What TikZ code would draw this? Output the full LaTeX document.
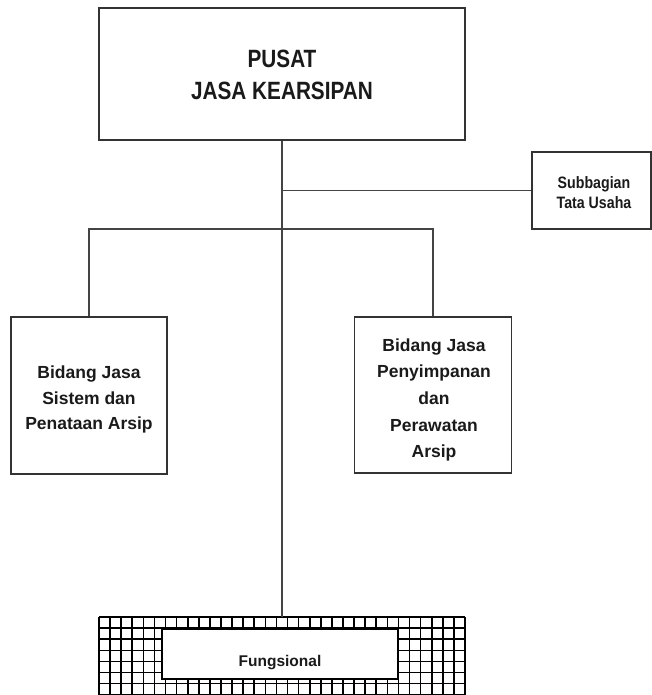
\documentclass[tikz,border=0pt]{standalone}
\usepackage{fontspec}
\setmainfont{Liberation Sans}
\newfontfamily\condfont{Liberation Sans}[FakeStretch=0.83]
\newfontfamily\subfont{Liberation Sans}[FakeStretch=0.86]
\definecolor{boxline}{HTML}{333333}
\definecolor{conline}{HTML}{444444}
\definecolor{txt}{HTML}{1A1A1A}
\begin{document}
\begin{tikzpicture}[x=1pt,y=-1pt,
  orgbox/.style={draw=boxline, line width=1.4pt, fill=white, rectangle, inner sep=0pt},
  lbl/.style={inner sep=0pt, align=center, text=txt, font=\bfseries},
  conn/.style={draw=conline, line width=1.4pt},
  gridline/.style={draw=black, line width=1.6pt}]
\useasboundingbox (0,0) rectangle (652,695);
\fill[white] (0,0) rectangle (652,695);

\node[orgbox, minimum width=366pt, minimum height=132pt] (top) at (282,74) {};
\node[lbl, font=\condfont\bfseries\fontsize{25}{32}\selectfont] (toptext) at (282,75) {PUSAT\\JASA KEARSIPAN};

\node[orgbox, minimum width=119pt, minimum height=77pt] (sub) at (591.5,190.5) {};
\node[lbl, font=\subfont\bfseries\fontsize{16.5}{20}\selectfont] (subtext) at (594,193) {Subbagian\\Tata Usaha};

\node[orgbox, minimum width=156pt, minimum height=157pt] (left) at (89,395.5) {};
\node[lbl, font=\bfseries\fontsize{17.5}{25.5}\selectfont] (lefttext) at (89,399.5) {Bidang Jasa\\Sistem dan\\Penataan Arsip};

\node[orgbox, minimum width=157pt, minimum height=156pt] (right) at (433,395) {};
\node[lbl, font=\bfseries\fontsize{17.5}{26.7}\selectfont] (righttext) at (434,400) {Bidang Jasa\\Penyimpanan\\dan\\Perawatan\\Arsip};

% Fungsional grid box
\node[rectangle, minimum width=366pt, minimum height=78pt, inner sep=0pt] (fo) at (282,656) {};
\foreach \i in {0,...,33} \draw[gridline] ({99+\i*366/33},617) -- ({99+\i*366/33},695);
\foreach \j in {0,...,7} \draw[gridline] (99,{617+\j*11.1}) -- (465,{617+\j*11.1});
\draw[black, line width=2.2pt] (465,617) -- (465,695);
\node[orgbox, draw=black, line width=2.2pt, minimum width=236pt, minimum height=50pt] (fin) at (280,654) {};
\node[lbl, font=\bfseries\fontsize{15.5}{18}\selectfont] (ftext) at (280,663) {Fungsional};

% connectors
\draw[conn] (top.south) -- (fo.north);
\draw[conn] (sub.west) -- (sub.west -| top.south);
\coordinate (bus) at (282,229);
\draw[conn] (left.north) |- (bus) -| (right.north);
\end{tikzpicture}
\end{document}
